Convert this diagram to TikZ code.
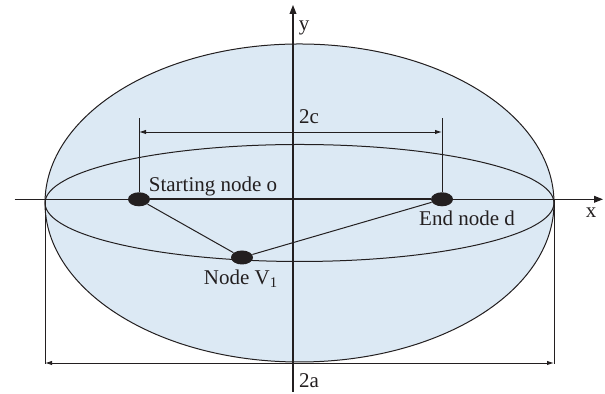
\documentclass[tikz,border=0pt]{standalone}
\usepackage{fontspec}
\setmainfont{Liberation Serif}
\usepackage{tikz}
\usetikzlibrary{arrows.meta,positioning,calc}
\definecolor{fshell}{HTML}{DCE9F4}
\definecolor{fink}{HTML}{231F20}
\tikzset{
  vertex/.style  = {fill=fink, ellipse, inner sep=0pt, minimum width=11pt,
                    minimum height=7pt},
  axisline/.style = {-{Triangle[length=4.5pt,width=3.4pt]}, draw=fink, line width=0.6pt},
  dimline/.style  = {{Latex[length=3.5pt,width=2.2pt]}-{Latex[length=3.5pt,width=2.2pt]},
                    draw=fink, line width=0.45pt},
  edge/.style     = {draw=fink, line width=0.5pt},
  lbl/.style      = {text=fink, font=\fontsize{10.5}{12}\selectfont, inner sep=0pt},
}
\usetikzlibrary{shapes.geometric}

\begin{document}
\begin{tikzpicture}[x=0.5pt,y=0.5pt]
\useasboundingbox (0,0) rectangle (605,394);
% ellipsoid
\fill[fshell] (299.5,191) ellipse [x radius=254.5, y radius=159];
\draw[edge] (299.5,191) ellipse [x radius=254.5, y radius=159];
\draw[edge] (299.5,191) ellipse [x radius=254.5, y radius=58.5];
% axes
\coordinate (xl) at (14.7,194.7);
\coordinate (xr) at (603,194.7);
\coordinate (yb) at (293,2);
\coordinate (yt) at (293,389);
\draw[axisline] (xl) -- (xr);
\draw[axisline] (yb) -- (yt);
\node[lbl] (xlab) at (591,181) {x};
\node[lbl] (ylab) at (304,366) {y};
% nodes
\node[vertex] (o) at (139,194.7) {};
\node[vertex] (d) at (442,194.7) {};
\node[vertex] (v1) at (242,136.5) {};
\draw[edge, line width=1pt] (o) -- (d);
\draw[edge] (o) -- (v1) -- (d);
% 2c
\coordinate (ct1) at (139,276);
\coordinate (ct2) at (442,276);
\draw[edge] (o) -- (ct1);
\draw[edge] (d) -- (ct2);
\draw[dimline] (139,262) -- (442,262);
\node[lbl] (clab) at (309,277) {2c};
% 2a
\coordinate (al) at (45,194.7);
\coordinate (ar) at (554,194.7);
\coordinate (ab1) at (45,30);
\coordinate (ab2) at (554,30);
\draw[edge] (al) -- (ab1);
\draw[edge] (ar) -- (ab2);
\draw[dimline] (45,31) -- (554,31);
\node[lbl] (alab) at (309,13) {2a};
% labels
\node[lbl] (olab) at (213,208) {Starting node o};
\node[lbl] (dlab) at (467,176) {End node d};
\node[lbl] (vlab) at (241,115) {Node V\textsubscript{1}};
\end{tikzpicture}
\end{document}
